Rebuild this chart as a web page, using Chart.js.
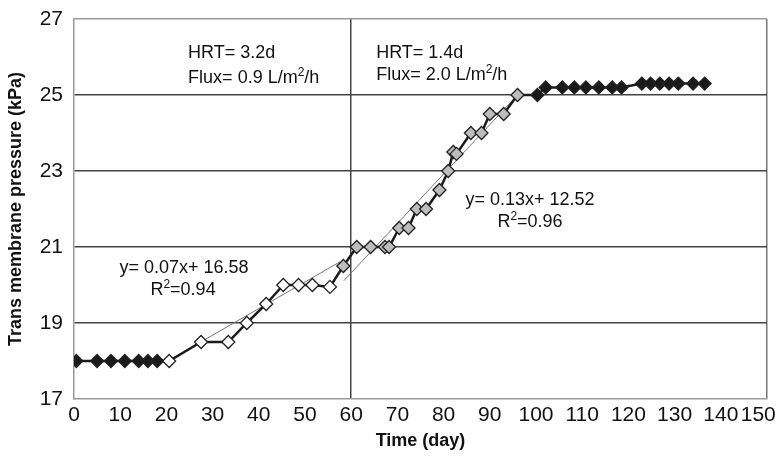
<!DOCTYPE html>
<html>
<head>
<meta charset="utf-8">
<script src="https://cdn.jsdelivr.net/npm/chart.js@4.4.1/dist/chart.umd.min.js"></script>
<style>
  html, body { margin: 0; padding: 0; background: #fff; }
  #wrap { width: 778px; height: 460px; }
</style>
</head>
<body>
<div id="wrap"><canvas id="tmpChart" width="778" height="460"></canvas></div>
<script>
// data
var days = [0.5, 5, 8, 11, 14, 16, 18,
    20.6, 27.5, 33.4, 37.4, 41.6, 45.3, 48.6, 51.6, 55.4,
    58.3, 61.2, 64.2, 67.3, 68.2, 70.4, 72.4, 74.2, 76.2, 79.1, 81, 82.1, 82.8, 85.9, 88.2, 90, 93, 96,
    100.3, 102.1, 105.7, 108.3, 110.8, 113.6, 116.5, 118.5, 122.9, 124.8, 126.8, 128.8, 130.8, 134, 136.5];
var tmp = [18, 18, 18, 18, 18, 18, 18,
    18, 18.5, 18.5, 19, 19.5, 20, 20, 20, 19.95,
    20.5, 21, 21, 21, 21, 21.5, 21.5, 22, 22, 22.5, 23, 23.5, 23.45, 24, 24, 24.5, 24.5, 25,
    25, 25.2, 25.2, 25.2, 25.2, 25.2, 25.2, 25.2, 25.3, 25.3, 25.3, 25.3, 25.3, 25.3, 25.3];

var xTicks = [0, 10, 20, 30, 40, 50, 60, 70, 80, 90, 100, 110, 120, 130, 140, 150];
var yTicks = [17, 19, 21, 23, 25, 27];

// linear fits printed on the chart
var fit1 = { slope: 0.07, intercept: 16.58, from: 20.6, to: 57.6 };
var fit2 = { slope: 0.13, intercept: 12.52, from: 58.4, to: 96 };

function fitLine(f) {
    return [f.from, f.to].map(function(x){ return { x: x, y: f.slope * x + f.intercept }; });
}

function pointColor(d) {
    if (d < 20) return '#1a1a1a';
    if (d < 58) return '#ffffff';
    if (d < 98) return '#bdbdbd';
    return '#1a1a1a';
}

// text boxes, placed in data units
var notes = [
    { x: 24.7, y: 25.97, align: 'left', parts: [['HRT= 3.2d']] },
    { x: 24.7, y: 25.32, align: 'left', parts: [['Flux= 0.9 L/m'], ['2', 1], ['/h']] },
    { x: 65.4, y: 25.97, align: 'left', parts: [['HRT= 1.4d']] },
    { x: 65.4, y: 25.39, align: 'left', parts: [['Flux= 2.0 L/m'], ['2', 1], ['/h']] },
    { x: 23.8, y: 20.32, align: 'center', parts: [['y= 0.07x+ 16.58']] },
    { x: 23.6, y: 19.74, align: 'center', parts: [['R'], ['2', 1], ['=0.94']] },
    { x: 98.7, y: 22.1, align: 'center', parts: [['y= 0.13x+ 12.52']] },
    { x: 98.7, y: 21.53, align: 'center', parts: [['R'], ['2', 1], ['=0.96']] }
];

var notesPlugin = {
    id: 'notes',
    afterDatasetsDraw: function(chart) {
        var ctx = chart.ctx, xs = chart.scales.x, ys = chart.scales.y;
        ctx.save();
        ctx.fillStyle = '#111';
        ctx.textBaseline = 'alphabetic';
        ctx.textAlign = 'left';
        notes.forEach(function(n){
            var big = '18px "Liberation Sans", Arial, sans-serif';
            var small = '12px "Liberation Sans", Arial, sans-serif';
            var w = 0;
            n.parts.forEach(function(p){
                ctx.font = p[1] ? small : big;
                w += ctx.measureText(p[0]).width;
            });
            var px = xs.getPixelForValue(n.x);
            var py = ys.getPixelForValue(n.y);
            if (n.align === 'center') px -= w / 2;
            n.parts.forEach(function(p){
                ctx.font = p[1] ? small : big;
                ctx.fillText(p[0], px, p[1] ? py - 7 : py);
                px += ctx.measureText(p[0]).width;
            });
        });
        ctx.restore();
    }
};

var ctx = document.getElementById('tmpChart');
var tmpChart = new Chart(ctx, {
    type: 'scatter',
    data: {
        datasets: [
            {
                data: days.map(function(d, i){ return { x: d, y: tmp[i] }; }),
                showLine: true,
                borderColor: '#1a1a1a',
                borderWidth: 2.5,
                pointStyle: 'rectRot',
                pointRadius: 6.5,
                pointBorderWidth: 1.3,
                pointBorderColor: '#222',
                pointBackgroundColor: function(c){ return pointColor(days[c.dataIndex]); }
            },
            {
                data: fitLine(fit1),
                showLine: true,
                borderColor: '#777',
                borderWidth: 1,
                pointRadius: 0
            },
            {
                data: fitLine(fit2),
                showLine: true,
                borderColor: '#777',
                borderWidth: 1,
                pointRadius: 0
            }
        ]
    },
    options: {
        responsive: false,
        animation: false,
        layout: { padding: { top: 19, right: 11, left: 0, bottom: 0 } },
        plugins: { legend: { display: false }, tooltip: { enabled: false } },
        scales: {
            x: {
                type: 'linear',
                min: 0, max: 150,
                afterBuildTicks: function(s){ s.ticks = xTicks.map(function(v){ return { value: v }; }); },
                afterFit: function(s){ s.height = 61; s.paddingLeft = 0; s.paddingRight = 0; },
                ticks: {
                    color: '#111',
                    padding: 4,
                    maxRotation: 0,
                    autoSkip: false,
                    font: { family: '"Liberation Sans", Arial, sans-serif', size: 21 },
                    // last label nudged left so it stays on the canvas
                    callback: function(v){ return v === 150 ? v + '   ' : '' + v; }
                },
                grid: {
                    drawTicks: false,
                    lineWidth: 1.5,
                    color: function(c){
                        if (c.tick && c.tick.value === 60) return '#444';
                        if (c.tick && c.tick.value === 150) return '#777';
                        return 'rgba(0,0,0,0)';
                    }
                },
                border: { color: '#999', width: 1.5 },
                title: {
                    display: true,
                    text: 'Time (day)',
                    color: '#111',
                    padding: { top: 0, bottom: 8 },
                    font: { family: '"Liberation Sans", Arial, sans-serif', size: 18, weight: 'bold' }
                }
            },
            y: {
                min: 17, max: 27,
                afterBuildTicks: function(s){ s.ticks = yTicks.map(function(v){ return { value: v }; }); },
                afterFit: function(s){ s.width = 74; s.paddingTop = 0; s.paddingBottom = 0; },
                ticks: {
                    color: '#111',
                    padding: 11,
                    font: { family: '"Liberation Sans", Arial, sans-serif', size: 21 }
                },
                grid: {
                    drawTicks: false,
                    lineWidth: 1.5,
                    color: function(c){
                        if (c.tick && c.tick.value === 27) return '#999';
                        if (c.tick && c.tick.value === 17) return 'rgba(0,0,0,0)';
                        return '#444';
                    }
                },
                border: { color: '#999', width: 1.5 },
                title: {
                    display: true,
                    text: 'Trans membrane pressure (kPa)',
                    color: '#111',
                    padding: { top: 5, bottom: 0 },
                    font: { family: '"Liberation Sans", Arial, sans-serif', size: 18, weight: 'bold' }
                }
            }
        }
    },
    plugins: [notesPlugin]
});
</script>
</body>
</html>
